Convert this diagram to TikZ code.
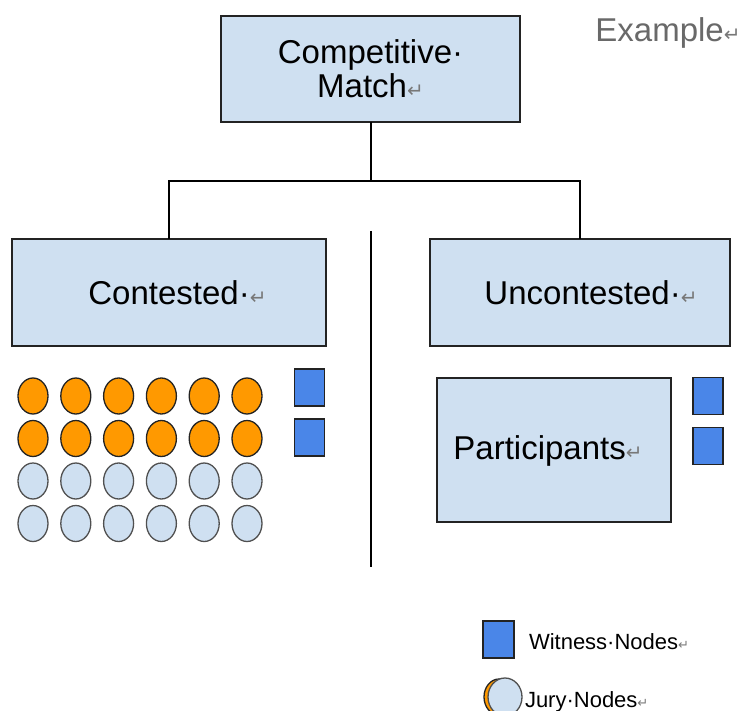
\documentclass[tikz,border=0pt]{standalone}
\usepackage{fontspec}
\setmainfont{Liberation Sans}
\newfontfamily\arrowfont{DejaVu Sans}
\usetikzlibrary{shapes.geometric}

\definecolor{boxblue}{RGB}{207,224,241}
\definecolor{witblue}{RGB}{74,134,232}
\definecolor{juryorange}{RGB}{255,153,0}
\definecolor{edgegray}{RGB}{35,35,35}
\definecolor{ringgray}{RGB}{80,80,80}
\definecolor{markgray}{RGB}{120,120,120}
\definecolor{titlegray}{RGB}{105,105,105}

% return mark as shown by the word processor
\newcommand{\crmark}[1][20]{{\arrowfont\fontsize{#1}{#1}\selectfont\color{markgray}↵}}

\begin{document}
\begin{tikzpicture}[x=1pt, y=-1pt,
    every node/.style={inner sep=0pt, outer sep=0pt},
    catbox/.style={rectangle, draw=edgegray, fill=boxblue, line width=1.2pt},
    bigtext/.style={font=\fontsize{33}{34}\selectfont, align=center},
    smalltext/.style={font=\fontsize{22}{24}\selectfont, anchor=base west},
    witness/.style={rectangle, draw=edgegray, fill=witblue, line width=1.2pt,
        minimum width=30pt, minimum height=37pt},
    jury/.style={ellipse, line width=1.3pt, minimum width=30pt, minimum height=36pt},
    line width=1.3pt]
    \useasboundingbox (0,0) rectangle (746,711);

    % category boxes
    \node[catbox, bigtext, minimum width=299pt, minimum height=106pt] (match) at (370.5,69)
        {Competitive·\\Match\crmark};

    \node[catbox, minimum width=314pt, minimum height=107pt] (contested) at (169,292.5) {};
    \node[bigtext] (contested-t) at (177.5,293) {Contested·\crmark};

    \node[catbox, minimum width=300pt, minimum height=107pt] (uncontested) at (580,292.5) {};
    \node[bigtext] (uncontested-t) at (591,293) {Uncontested·\crmark};

    \node[catbox, minimum width=234pt, minimum height=144pt] (participants) at (554,450) {};
    \node[bigtext] (participants-t) at (548,451) {Participants\crmark};

    \node[bigtext, text=titlegray] (example) at (668,33) {Example\crmark};

    % tree connectors
    \coordinate (split) at (371,181);
    \draw (split |- match.south) -- (split);
    \draw (contested.north) |- (split) -| (uncontested.north);

    \coordinate (sep-top) at (371,231);
    \coordinate (sep-bot) at (371,567);
    \draw (sep-top) -- (sep-bot);

    % jury nodes
    \foreach \col in {0,...,5}{
        \foreach \row in {0,1}
            \node[jury, draw=edgegray, fill=juryorange] (j-\row-\col)
                at ({33+42.8*\col},{396+42.5*\row}) {};
        \foreach \row in {2,3}
            \node[jury, draw=ringgray, fill=boxblue] (j-\row-\col)
                at ({33+42.8*\col},{396+42.5*\row}) {};
    }

    % witness nodes
    \node[witness] (w-1) at (309.5,387.5) {};
    \node[witness] (w-2) at (309.5,437.5) {};
    \node[witness] (w-3) at (708,396) {};
    \node[witness] (w-4) at (708,446) {};

    % legend
    \node[witness, minimum width=31pt] (w-key) at (498.5,639.5) {};
    \node[smalltext] (w-key-t) at (529,649) {Witness·Nodes\crmark[13]};

    \node[jury, draw=edgegray, fill=juryorange] (j-key-back) at (499,697) {};
    \node[jury, draw=ringgray, fill=boxblue, minimum width=34pt, minimum height=38pt] (j-key) at (505,697) {};
    \node[smalltext] (j-key-t) at (525,707) {Jury·Nodes\crmark[13]};
\end{tikzpicture}
\end{document}
